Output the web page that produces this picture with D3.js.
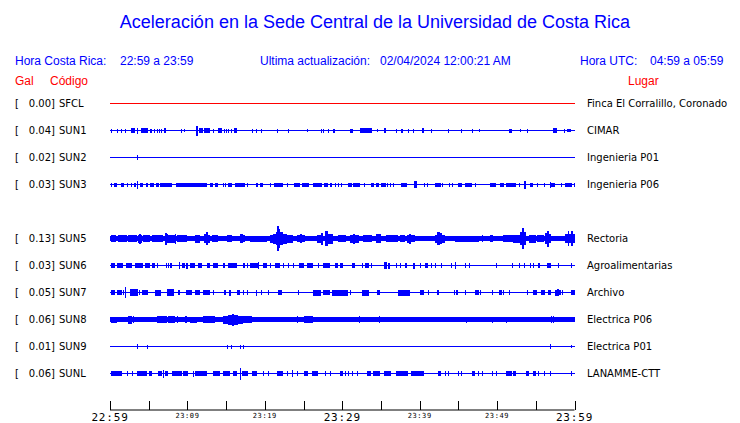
<!DOCTYPE html>
<html>
<head>
<meta charset="utf-8">
<script src="https://cdn.jsdelivr.net/npm/d3@7"></script>
<style>
  html, body { margin: 0; padding: 0; background: #fff; }
  svg { display: block; }
</style>
</head>
<body>
<svg id="chart" width="740" height="423"></svg>
<script>
// ---------------- DATA ----------------
const titleText = "Aceleración en la Sede Central de la Universidad de Costa Rica";
const localWindow = "22:59 a 23:59";
const utcWindow = "04:59 a 05:59";
const lastUpdate = "02/04/2024 12:00:21 AM";

const codes  = ["SFCL","SUN1","SUN2","SUN3","SUN4","SUN5","SUN6","SUN7","SUN8","SUN9","SUNL"];
const places = ["Finca El Corralillo, Coronado","CIMAR","Ingenieria P01","Ingenieria P06",null,
                "Rectoria","Agroalimentarias","Archivo","Electrica P06","Electrica P01","LANAMME-CTT"];
const peakGal = [0.00,0.04,0.02,0.03,null,0.13,0.03,0.05,0.06,0.01,0.06];
// continuous background amplitude of each trace (relative units)
const noiseFloor = [0,0,0,0,null,2,0,0,2,0,0];

// time axis: minutes after 22:59
const tickMinutes = [0,5,10,15,20,25,30,35,40,45,50,55,60];
const majorLabels = [[0,"22:59"],[30,"23:29"],[60,"23:59"]];
const minorLabels = [[10,"23:09"],[20,"23:19"],[40,"23:39"],[50,"23:49"]];

// bursts of each record: [start minute, end minute, half-amplitude (relative units)]
const burstsSFCL = [];
const burstsSUN1 = [[0.1,0.1,1.5],[0.9,0.9,1.5],[1.4,1.4,1.5],[1.9,1.9,1.5],[2.7,3.2,2],[3.5,3.5,2.5],[4.0,4.9,2],[5.2,5.4,1.5],[5.7,5.7,1.5],[6.1,6.1,1.5],[6.3,6.3,1.5],[6.6,6.6,1.5],[7.0,7.2,2],[9.2,9.2,1.5],[9.6,9.6,1],[11.1,11.4,4.5],[11.5,12.0,2],[12.2,12.9,2],[13.3,13.3,1.5],[14.0,14.5,2],[14.7,14.7,1.5],[15.0,15.0,1.5],[15.3,15.3,1.5],[15.6,15.6,1.5],[16.0,16.4,2],[18.4,18.4,1.5],[18.8,18.9,1.5],[19.5,19.5,1.5],[21.6,21.6,1.5],[23.0,23.0,1.5],[25.5,25.5,1],[27.2,27.2,1.5],[27.5,27.5,1.5],[28.2,28.2,1.5],[28.8,29.1,1.5],[31.0,31.4,1.5],[32.3,33.8,2],[34.5,34.5,1],[35.4,35.7,2],[37.0,37.0,1.5],[37.6,37.9,1.5],[38.5,38.5,1.5],[39.2,39.2,1.5],[40.3,40.6,2],[41.4,41.4,1.5],[43.6,43.6,1.5],[45.3,45.3,1.5],[46.8,46.8,1.5],[47.6,47.6,1],[51.5,51.9,1.5],[53.0,53.0,1],[53.8,53.8,1.5],[57.2,57.7,2],[58.7,58.7,1.5],[59.0,59.5,1]];
const burstsSUN2 = [[3.5,3.5,2]];
const burstsSUN3 = [[0.1,0.1,1.5],[0.5,0.9,1.5],[1.4,1.8,1.5],[2.2,2.2,1.5],[2.7,2.8,1.5],[3.1,3.4,1.5],[3.5,3.5,3.5],[3.9,4.3,1.5],[4.7,4.9,1.5],[5.2,5.7,1.5],[5.9,6.3,1.5],[6.5,8.0,1.5],[8.5,12.5,1.5],[12.9,13.3,1.5],[13.6,14.0,1.5],[14.6,14.6,1.5],[14.9,14.9,1.5],[15.3,15.8,1.5],[16.2,17.5,1.5],[17.7,17.7,1.5],[18.8,19.1,1.5],[19.4,19.7,1.5],[20.7,20.7,1.5],[21.2,22.4,1.5],[22.8,22.9,1.5],[23.8,24.6,1.5],[24.8,25.7,1.5],[26.2,27.4,1.5],[27.7,28.2,1.5],[28.4,28.7,1.5],[29.1,29.1,1.5],[29.5,29.5,1.5],[29.9,29.9,1.5],[30.8,31.2,1.5],[31.4,32.3,1.5],[32.8,32.8,1.5],[33.7,34.1,1.5],[34.4,34.7,1.5],[35.0,35.6,1.5],[35.8,35.8,1.5],[36.2,36.2,1.5],[36.6,36.6,1.5],[37.6,38.3,1.5],[39.3,39.6,3],[40.5,40.5,1.5],[40.9,40.9,1.5],[42.0,42.7,1.5],[42.9,42.9,1.5],[43.8,43.8,1.5],[44.2,44.2,1.5],[45.0,45.5,1.5],[45.9,46.7,1.5],[47.2,47.2,1.5],[49.1,49.9,1.5],[50.4,50.9,1.5],[51.2,52.4,1.5],[52.8,52.8,1.5],[53.5,53.7,3.5],[54.3,54.6,1.5],[55.2,55.2,1.5],[56.0,56.0,1.5],[56.8,56.8,2.5],[57.0,57.5,1.5],[58.2,58.3,1.5],[58.8,59.7,1.5],[60,60,1.5]];
const burstsSUN4 = [];
const burstsSUN5 = [[0.1,0.8,3],[1.0,2.2,3],[2.3,3.5,3],[3.6,3.8,3.5],[3.8,4.0,4.5],[4.0,4.1,3.5],[4.3,5.2,3],[5.4,6.9,3],[7.1,7.3,5.5],[7.3,7.5,4],[7.5,8.4,3.5],[8.4,8.5,4.5],[8.7,10.0,3],[11.0,11.6,3.5],[12.1,12.4,4],[12.4,12.6,6],[12.6,12.9,3.5],[13.2,14.0,3],[15.1,15.8,3],[16.8,17.2,4],[17.2,17.5,3],[18.1,20.3,2.5],[20.7,21.1,3.5],[21.1,21.4,4.5],[21.4,21.6,6],[21.6,21.8,12],[21.8,22.0,9],[22.0,22.3,6],[22.3,22.8,4.5],[22.8,23.7,3.5],[24.2,24.5,3],[24.5,24.8,4],[24.8,25.2,3],[26.8,27.2,3.5],[27.2,27.5,5.5],[27.8,28.1,7],[28.2,28.8,4.5],[29.4,30.5,3],[31.0,31.4,3.5],[31.4,31.7,4.5],[31.7,32.1,3.5],[32.7,33.8,3],[34.4,35.0,4],[35.6,37.2,3],[37.5,38.1,3],[38.3,38.6,3.5],[38.6,38.9,4.5],[38.9,39.4,3],[42.0,42.3,3.5],[42.3,42.6,6],[42.6,42.9,5],[42.9,43.3,3.5],[44.6,47.6,2.5],[48.0,48.0,3],[49.1,49.5,3],[50.8,52.0,3],[52.0,53.0,3.5],[52.9,53.2,6],[53.2,53.5,10],[53.5,53.7,6],[54.1,55.0,3.5],[55.1,56.0,3],[56.2,56.5,5],[56.5,56.7,7.5],[56.7,56.9,4],[58.8,59.1,4],[59.1,59.3,7],[59.3,59.6,4],[59.6,59.8,7],[59.8,60,4]];
const burstsSUN6 = [[0.1,0.6,1.7],[0.9,1.7,1.7],[2.1,2.8,2],[3.2,4.3,2],[4.5,5.2,1.7],[5.4,5.8,1.7],[6.1,6.1,1.7],[7.2,7.2,1.7],[7.5,7.5,1.7],[7.8,8.0,1.7],[8.9,8.9,3],[9.3,9.7,1.7],[9.8,10.1,2.5],[10.3,11.0,1.7],[11.4,11.9,1.7],[12.5,12.9,2],[13.3,14.0,1.7],[14.6,14.9,1.7],[15.3,16.4,1.7],[17.2,17.5,1.7],[17.7,17.8,1.7],[18.1,19.1,1.7],[19.1,19.1,3],[19.8,20.3,1.7],[20.7,20.7,1.7],[21.3,22.0,1.7],[22.4,22.4,1.7],[23.0,23.0,1.7],[23.7,23.7,1.7],[24.4,25.0,1.7],[25.5,26.2,1.7],[26.9,26.9,1.7],[27.5,28.4,1.7],[29.0,29.4,1.7],[29.7,30.1,1.7],[31.3,31.7,1.7],[32.5,32.7,1.7],[33.0,33.4,1.7],[33.7,33.7,1.7],[35.4,35.8,3],[35.9,36.2,2.5],[37.0,37.0,1.7],[37.5,37.6,1.7],[38.1,38.3,1.7],[39.2,39.4,2.5],[40.1,40.1,1.7],[40.7,41.1,1.7],[41.5,41.5,1.7],[42.0,42.0,1.7],[42.7,42.7,1.7],[44.0,44.1,1.7],[44.5,44.7,3],[45.9,45.9,1.7],[46.4,46.4,1.7],[49.8,49.8,1.7],[51.9,51.9,1.7],[52.8,53.0,1.7],[53.5,53.5,1.7],[54.3,54.3,1.7],[54.6,54.6,1.7],[55.3,55.6,1.7],[56.5,56.9,2],[57.9,57.9,1.7],[59.6,59.6,1.7]];
const burstsSUN7 = [[0.1,0.6,1.7],[0.9,1.6,1.7],[1.7,1.8,1.7],[1.9,1.9,5],[2.6,3.6,3],[3.7,3.9,1.7],[4.1,4.9,1.7],[5.8,6.6,2.5],[7.4,8.3,3],[8.8,9.1,1.7],[9.8,10.6,2],[11.0,11.6,1.7],[12.0,12.9,2],[13.3,13.3,1.7],[14.7,15.0,1.7],[15.4,15.6,2.5],[16.4,16.8,1.7],[17.2,17.2,1.7],[17.7,17.7,1.7],[18.8,19.0,2.5],[19.5,19.5,1.7],[20.4,20.4,1.7],[21.7,22.2,1.7],[24.3,24.3,1.7],[26.2,27.2,2.5],[27.5,28.4,2],[28.7,30.8,2.5],[31.0,31.0,1.7],[32.5,33.4,2.5],[34.5,34.9,1.7],[37.2,38.8,2.5],[40.1,40.6,2],[41.1,41.1,1.7],[42.2,42.5,1.7],[44.4,44.4,1.7],[44.7,45.0,1.7],[45.8,45.8,1.7],[47.2,47.6,1.7],[47.8,47.8,1.7],[49.3,49.3,1.7],[50.2,50.6,1.7],[50.8,50.8,1.7],[51.5,51.5,1.7],[53.8,53.8,1.7],[54.7,55.1,1.7],[55.7,56.2,1.7],[56.6,57.0,1.7],[57.5,57.8,2.5],[57.8,58.0,3],[58.0,58.2,2],[58.4,58.4,1.7],[59.6,60,1.7]];
const burstsSUN8 = [[0.1,0.9,2.5],[2.3,2.8,3.5],[3.0,3.0,3],[6.1,7.4,3],[7.5,8.4,3],[8.7,8.8,3],[9.7,10.0,3],[10.3,11.2,2.5],[12.0,13.6,3],[14.6,15.2,3.5],[15.2,15.8,4.5],[15.8,16.0,5.5],[16.0,16.5,4.5],[16.5,17.2,3.5],[17.2,18.4,3],[24.2,24.2,3],[25.0,26.2,3],[32.1,32.1,3],[34.7,34.7,3],[46.0,46.0,2.5],[49.4,49.4,2.5],[51.1,51.1,2.5],[56.9,56.9,3],[57.2,57.2,3]];
const burstsSUN9 = [[3.5,3.5,2],[4.8,4.8,1.5],[15.1,15.1,1.5],[15.6,15.6,1.5],[16.8,16.8,1.5],[17.2,17.2,1.5],[56.8,56.8,2],[59.6,59.6,1]];
const burstsSUNL = [[0.1,1.6,1.7],[2.2,2.2,1.7],[2.8,2.8,1.7],[3.5,4.8,1.7],[5.0,5.4,1.7],[6.2,6.7,1.7],[6.9,6.9,3.5],[7.1,7.5,1.7],[8.0,9.3,2],[9.4,10.1,1.7],[10.7,10.7,2.5],[11.0,12.5,1.7],[13.3,14.2,1.7],[14.6,15.5,1.7],[15.9,16.4,1.7],[16.8,16.8,5.5],[17.1,17.8,1.7],[18.4,19.0,1.7],[19.7,19.7,1.7],[20.4,20.4,1.7],[21.6,22.4,1.7],[22.9,22.9,1.7],[23.5,23.7,3],[24.2,24.2,1.7],[25.1,25.6,1.7],[26.1,26.9,1.7],[27.8,27.8,1.7],[28.4,28.4,1.7],[29.7,30.1,1.7],[30.4,30.4,1.7],[30.8,30.8,1.7],[31.2,31.2,1.7],[31.9,31.9,1.7],[33.2,33.7,1.7],[34.0,34.9,1.7],[35.4,36.3,1.7],[37.0,38.5,2],[38.9,40.6,2],[42.4,42.8,1.7],[43.3,43.3,1.7],[43.7,43.7,1.7],[44.9,44.9,1.7],[45.4,45.4,1.7],[46.7,47.2,1.7],[47.5,47.5,1.7],[48.0,48.0,1.7],[49.3,49.3,1.7],[49.8,49.8,1.7],[51.2,51.9,1.7],[52.1,52.4,2],[53.7,54.1,1.7],[54.6,55.0,1.7],[55.3,55.3,1.7],[56.1,56.1,1.7],[56.8,56.8,1.7],[59.6,59.6,1.7]];

const bursts = [burstsSFCL,burstsSUN1,burstsSUN2,burstsSUN3,burstsSUN4,burstsSUN5,burstsSUN6,burstsSUN7,burstsSUN8,burstsSUN9,burstsSUNL];
const traceColors = ["#ff0000","#0000ff","#0000ff","#0000ff",null,"#0000ff","#0000ff","#0000ff","#0000ff","#0000ff","#0000ff"];

// ---------------- DRAW ----------------
const svg = d3.select("#chart");
const SANS = "'Liberation Sans', Arial, sans-serif";
const DJ = "'DejaVu Sans', sans-serif";
const MONO = "'DejaVu Sans Mono', monospace";
const BLUE = "#0000ff", RED = "#ff0000";

svg.append("text").attr("x", 375).attr("y", 28).attr("text-anchor", "middle")
  .style("font-family", SANS).style("font-size", "18px").attr("fill", BLUE).text(titleText);

const header = [
  [15, "Hora Costa Rica:", BLUE],
  [120, localWindow, BLUE],
  [260, "Ultima actualización:", BLUE],
  [380, lastUpdate, BLUE],
  [580, "Hora UTC:", BLUE],
  [650, utcWindow, BLUE]
];
svg.selectAll("text.hdr").data(header).join("text").attr("class", "hdr")
  .attr("x", d => d[0]).attr("y", 65).attr("fill", d => d[2])
  .style("font-family", SANS).style("font-size", "12px").text(d => d[1]);

const sub = [[15, "Gal"], [50, "Código"], [628, "Lugar"]];
svg.selectAll("text.sub").data(sub).join("text").attr("class", "sub")
  .attr("x", d => d[0]).attr("y", 85).attr("fill", RED)
  .style("font-family", SANS).style("font-size", "12px").text(d => d[1]);

const x = d3.scaleLinear().domain([0, 60]).range([110, 574.5]);
const y = d3.scalePoint().domain(codes).range([103, 373]);
const amp = d3.scaleLinear().domain([0, 12]).range([0, 12]);

const rows = codes.map((c, i) => ({code: c, place: places[i], peak: peakGal[i], floor: noiseFloor[i], bursts: bursts[i], color: traceColors[i]}))
  .filter(r => r.peak !== null);

const g = svg.append("g").attr("shape-rendering", "crispEdges");
const row = g.selectAll("g.row").data(rows).join("g").attr("class", "row");

// baseline
row.append("rect")
  .attr("x", x(0)).attr("width", x(60) - x(0))
  .attr("y", d => y(d.code)).attr("height", 1)
  .attr("fill", d => d.color);
// continuous noise band
row.filter(d => d.floor > 0).append("rect")
  .attr("x", x(0)).attr("width", x(60) - x(0))
  .attr("y", d => y(d.code) - amp(d.floor)).attr("height", d => 2 * amp(d.floor) + 1)
  .attr("fill", d => d.color);
// bursts
row.each(function(d) {
  d3.select(this).selectAll("rect.b").data(d.bursts).join("rect").attr("class", "b")
    .attr("x", b => Math.min(x(b[0]), x(60) - 1))
    .attr("width", b => Math.max(1, x(b[1]) - x(b[0])))
    .attr("y", b => y(d.code) - amp(b[2]))
    .attr("height", b => 2 * amp(b[2]) + 1)
    .attr("fill", d.color);
});

// labels
const lab = svg.append("g").style("font-family", DJ).style("font-size", "10px").attr("fill", "#000");
lab.selectAll("text.br").data(rows).join("text").attr("class", "br")
  .attr("x", 15).attr("y", d => y(d.code) + 4).text("[");
lab.selectAll("text.pk").data(rows).join("text").attr("class", "pk")
  .attr("x", 55).attr("y", d => y(d.code) + 4).attr("text-anchor", "end")
  .text(d => d3.format(".2f")(d.peak) + "]");
lab.selectAll("text.cd").data(rows).join("text").attr("class", "cd")
  .attr("x", 59).attr("y", d => y(d.code) + 4).text(d => d.code);
lab.selectAll("text.pl").data(rows).join("text").attr("class", "pl")
  .attr("x", 587).attr("y", d => y(d.code) + 4).text(d => d.place);

// time axis
const axis = d3.axisTop(x).tickValues(tickMinutes).tickSize(9).tickFormat("");
const ag = svg.append("g").attr("transform", "translate(0,409.5)").call(axis);
ag.select(".domain").attr("stroke", "#000").attr("d", `M${x(0)},0.5H${x(60)}`);
ag.selectAll(".tick line").attr("stroke", "#000").attr("shape-rendering", "crispEdges");

svg.selectAll("text.maj").data(majorLabels).join("text").attr("class", "maj")
  .attr("x", d => Math.max(x(d[0]), 106.5)).attr("y", 421).attr("text-anchor", "middle")
  .style("font-family", MONO).style("font-size", "11px").style("letter-spacing", "0.8px")
  .attr("fill", "#000").text(d => d[1]);
svg.selectAll("text.min").data(minorLabels).join("text").attr("class", "min")
  .attr("x", d => x(d[0])).attr("y", 418).attr("text-anchor", "middle")
  .style("font-family", MONO).style("font-size", "7px").style("letter-spacing", "0.6px")
  .attr("fill", "#000").text(d => d[1]);
</script>
</body>
</html>
